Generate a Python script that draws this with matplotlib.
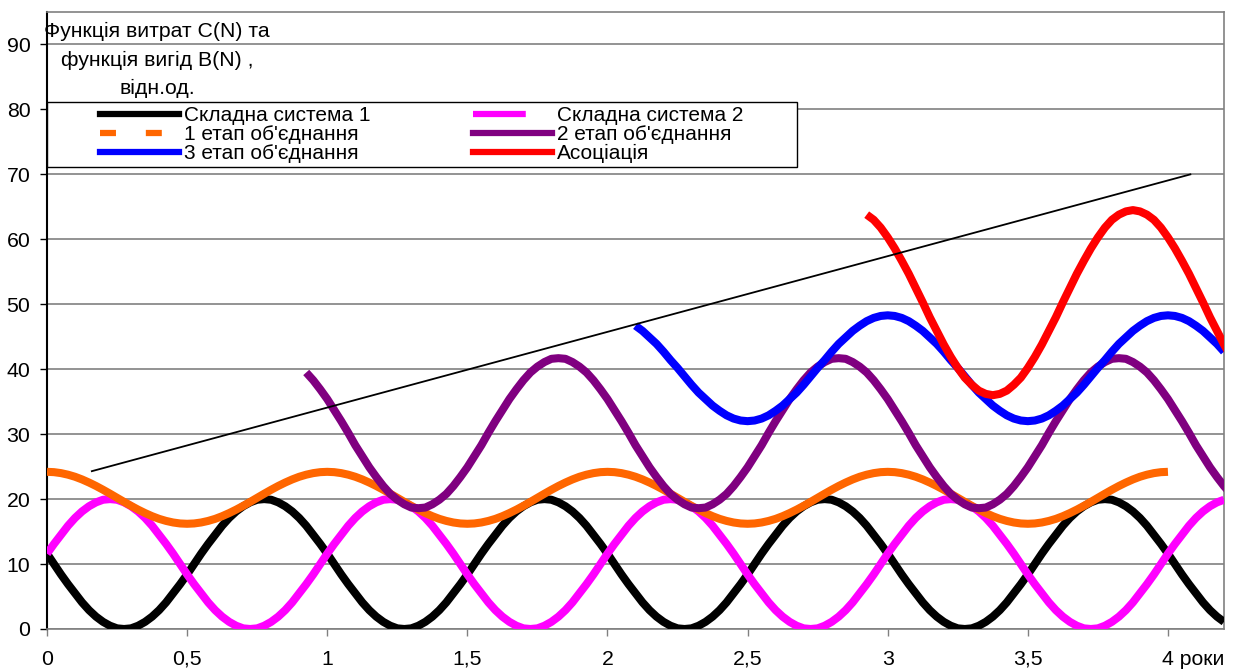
import numpy as np
import matplotlib
matplotlib.use("Agg")
import matplotlib.pyplot as plt
from matplotlib.lines import Line2D
from matplotlib.patches import Rectangle
import matplotlib.transforms as mtransforms

plt.rcParams['font.family'] = ['Liberation Sans', 'DejaVu Sans']
plt.rcParams['lines.scale_dashes'] = False

# ---------------- data ----------------
STEP = 0.025
x_main = np.round(np.arange(0, 169) * STEP, 4)            # 0 .. 4.2
x_orange = np.round(np.arange(0, 161) * STEP, 4)          # 0 .. 4.0
x_purple = np.round(0.925 + np.arange(0, 133) * STEP, 4)  # 0.925 .. 4.225
x_blue = np.round(2.1 + np.arange(0, 85) * STEP, 4)       # 2.1 .. 4.2
x_red = np.round(2.925 + np.arange(0, 53) * STEP, 4)      # 2.925 .. 4.225

system1 = [
    11.6, 10.0, 8.4, 6.9, 5.5, 4.1, 2.9, 1.9, 1.1, 0.5, 0.1, 0.0, 0.1, 0.5, 1.1, 1.9, 2.9, 4.1, 5.5, 6.9,
    8.4, 10.0, 11.6, 13.1, 14.5, 15.9, 17.1, 18.1, 18.9, 19.5, 19.9, 20.0, 19.9, 19.5, 18.9, 18.1, 17.1, 15.9, 14.5, 13.1,
    11.6, 10.0, 8.4, 6.9, 5.5, 4.1, 2.9, 1.9, 1.1, 0.5, 0.1, 0.0, 0.1, 0.5, 1.1, 1.9, 2.9, 4.1, 5.5, 6.9,
    8.4, 10.0, 11.6, 13.1, 14.5, 15.9, 17.1, 18.1, 18.9, 19.5, 19.9, 20.0, 19.9, 19.5, 18.9, 18.1, 17.1, 15.9, 14.5, 13.1,
    11.6, 10.0, 8.4, 6.9, 5.5, 4.1, 2.9, 1.9, 1.1, 0.5, 0.1, 0.0, 0.1, 0.5, 1.1, 1.9, 2.9, 4.1, 5.5, 6.9,
    8.4, 10.0, 11.6, 13.1, 14.5, 15.9, 17.1, 18.1, 18.9, 19.5, 19.9, 20.0, 19.9, 19.5, 18.9, 18.1, 17.1, 15.9, 14.5, 13.1,
    11.6, 10.0, 8.4, 6.9, 5.5, 4.1, 2.9, 1.9, 1.1, 0.5, 0.1, 0.0, 0.1, 0.5, 1.1, 1.9, 2.9, 4.1, 5.5, 6.9,
    8.4, 10.0, 11.6, 13.1, 14.5, 15.9, 17.1, 18.1, 18.9, 19.5, 19.9, 20.0, 19.9, 19.5, 18.9, 18.1, 17.1, 15.9, 14.5, 13.1,
    11.6, 10.0, 8.4, 6.9, 5.5, 4.1, 2.9, 1.9, 1.1]

system2 = [
    11.6, 13.1, 14.5, 15.9, 17.1, 18.1, 18.9, 19.5, 19.9, 20.0, 19.9, 19.5, 18.9, 18.1, 17.1, 15.9, 14.5, 13.1, 11.6, 10.0,
    8.4, 6.9, 5.5, 4.1, 2.9, 1.9, 1.1, 0.5, 0.1, 0.0, 0.1, 0.5, 1.1, 1.9, 2.9, 4.1, 5.5, 6.9, 8.4, 10.0,
    11.6, 13.1, 14.5, 15.9, 17.1, 18.1, 18.9, 19.5, 19.9, 20.0, 19.9, 19.5, 18.9, 18.1, 17.1, 15.9, 14.5, 13.1, 11.6, 10.0,
    8.4, 6.9, 5.5, 4.1, 2.9, 1.9, 1.1, 0.5, 0.1, 0.0, 0.1, 0.5, 1.1, 1.9, 2.9, 4.1, 5.5, 6.9, 8.4, 10.0,
    11.6, 13.1, 14.5, 15.9, 17.1, 18.1, 18.9, 19.5, 19.9, 20.0, 19.9, 19.5, 18.9, 18.1, 17.1, 15.9, 14.5, 13.1, 11.6, 10.0,
    8.4, 6.9, 5.5, 4.1, 2.9, 1.9, 1.1, 0.5, 0.1, 0.0, 0.1, 0.5, 1.1, 1.9, 2.9, 4.1, 5.5, 6.9, 8.4, 10.0,
    11.6, 13.1, 14.5, 15.9, 17.1, 18.1, 18.9, 19.5, 19.9, 20.0, 19.9, 19.5, 18.9, 18.1, 17.1, 15.9, 14.5, 13.1, 11.6, 10.0,
    8.4, 6.9, 5.5, 4.1, 2.9, 1.9, 1.1, 0.5, 0.1, 0.0, 0.1, 0.5, 1.1, 1.9, 2.9, 4.1, 5.5, 6.9, 8.4, 10.0,
    11.6, 13.1, 14.5, 15.9, 17.1, 18.1, 18.9, 19.5, 19.9]

stage1 = [
    24.2, 24.15, 24.0, 23.76, 23.44, 23.03, 22.55, 22.02, 21.44, 20.83, 20.2, 19.57, 18.96, 18.38, 17.85, 17.37, 16.96, 16.64, 16.4, 16.25,
    16.2, 16.25, 16.4, 16.64, 16.96, 17.37, 17.85, 18.38, 18.96, 19.57, 20.2, 20.83, 21.44, 22.02, 22.55, 23.03, 23.44, 23.76, 24.0, 24.15,
    24.2, 24.15, 24.0, 23.76, 23.44, 23.03, 22.55, 22.02, 21.44, 20.83, 20.2, 19.57, 18.96, 18.38, 17.85, 17.37, 16.96, 16.64, 16.4, 16.25,
    16.2, 16.25, 16.4, 16.64, 16.96, 17.37, 17.85, 18.38, 18.96, 19.57, 20.2, 20.83, 21.44, 22.02, 22.55, 23.03, 23.44, 23.76, 24.0, 24.15,
    24.2, 24.15, 24.0, 23.76, 23.44, 23.03, 22.55, 22.02, 21.44, 20.83, 20.2, 19.57, 18.96, 18.38, 17.85, 17.37, 16.96, 16.64, 16.4, 16.25,
    16.2, 16.25, 16.4, 16.64, 16.96, 17.37, 17.85, 18.38, 18.96, 19.57, 20.2, 20.83, 21.44, 22.02, 22.55, 23.03, 23.44, 23.76, 24.0, 24.15,
    24.2, 24.15, 24.0, 23.76, 23.44, 23.03, 22.55, 22.02, 21.44, 20.83, 20.2, 19.57, 18.96, 18.38, 17.85, 17.37, 16.96, 16.64, 16.4, 16.25,
    16.2, 16.25, 16.4, 16.64, 16.96, 17.37, 17.85, 18.38, 18.96, 19.57, 20.2, 20.83, 21.44, 22.02, 22.55, 23.03, 23.44, 23.76, 24.0, 24.15,
    24.2]

stage2 = [
    39.5, 38.3, 36.9, 35.4, 33.7, 32.0, 30.2, 28.3, 26.6, 24.9, 23.4, 22.0, 20.8, 19.9, 19.2, 18.7, 18.6, 18.7, 19.2, 19.9,
    20.8, 22.0, 23.4, 24.9, 26.6, 28.3, 30.2, 32.0, 33.7, 35.4, 36.9, 38.3, 39.5, 40.4, 41.1, 41.6, 41.7, 41.6, 41.1, 40.4,
    39.5, 38.3, 36.9, 35.4, 33.7, 32.0, 30.2, 28.3, 26.6, 24.9, 23.4, 22.0, 20.8, 19.9, 19.2, 18.7, 18.6, 18.7, 19.2, 19.9,
    20.8, 22.0, 23.4, 24.9, 26.6, 28.3, 30.2, 32.0, 33.7, 35.4, 36.9, 38.3, 39.5, 40.4, 41.1, 41.6, 41.7, 41.6, 41.1, 40.4,
    39.5, 38.3, 36.9, 35.4, 33.7, 32.0, 30.2, 28.3, 26.6, 24.9, 23.4, 22.0, 20.8, 19.9, 19.2, 18.7, 18.6, 18.7, 19.2, 19.9,
    20.8, 22.0, 23.4, 24.9, 26.6, 28.3, 30.2, 32.0, 33.7, 35.4, 36.9, 38.3, 39.5, 40.4, 41.1, 41.6, 41.7, 41.6, 41.1, 40.4,
    39.5, 38.3, 36.9, 35.4, 33.7, 32.0, 30.2, 28.3, 26.6, 24.9, 23.4, 22.0, 20.8]

stage3 = [
    46.7, 45.9, 44.9, 43.9, 42.7, 41.4, 40.2, 38.9, 37.6, 36.4, 35.4, 34.4, 33.6, 32.9, 32.4, 32.1, 32.0, 32.1, 32.4, 32.9,
    33.6, 34.4, 35.4, 36.4, 37.6, 38.9, 40.2, 41.4, 42.7, 43.9, 44.9, 45.9, 46.7, 47.4, 47.9, 48.2, 48.3, 48.2, 47.9, 47.4,
    46.7, 45.9, 44.9, 43.9, 42.7, 41.4, 40.2, 38.9, 37.6, 36.4, 35.4, 34.4, 33.6, 32.9, 32.4, 32.1, 32.0, 32.1, 32.4, 32.9,
    33.6, 34.4, 35.4, 36.4, 37.6, 38.9, 40.2, 41.4, 42.7, 43.9, 44.9, 45.9, 46.7, 47.4, 47.9, 48.2, 48.3, 48.2, 47.9, 47.4,
    46.7, 45.9, 44.9, 43.9, 42.7]

association = [
    63.8, 63.0, 61.8, 60.3, 58.6, 56.7, 54.7, 52.5, 50.3, 48.0, 45.9, 43.8, 41.9, 40.2, 38.7, 37.6, 36.7, 36.2, 36.0, 36.2,
    36.7, 37.6, 38.7, 40.2, 41.9, 43.8, 45.9, 48.0, 50.3, 52.5, 54.7, 56.7, 58.6, 60.3, 61.8, 63.0, 63.8, 64.3, 64.5, 64.3,
    63.8, 63.0, 61.8, 60.3, 58.6, 56.7, 54.7, 52.5, 50.3, 48.0, 45.9, 43.8, 41.9]

trend_x = [0.16, 4.08]
trend_y = [24.3, 70.0]

labels = ["Складна система 1", "Складна система 2", "1 етап об'єднання",
          "2 етап об'єднання", "3 етап об'єднання", "Асоціація"]
colors = ["#000000", "#FF00FF", "#FF6600", "#800080", "#0000FF", "#FF0000"]

x_ticks = [0, 0.5, 1, 1.5, 2, 2.5, 3, 3.5, 4]
x_ticklabels = ["0", "0,5", "1", "1,5", "2", "2,5", "3", "3,5", "4 роки"]
y_ticks = [0, 10, 20, 30, 40, 50, 60, 70, 80, 90]
y_title = "Функція витрат C(N) та\nфункція вигід B(N) ,\nвідн.од."

# ---------------- figure ----------------
W, H = 1236, 670
fig = plt.figure(figsize=(W / 100, H / 100), dpi=100)
L, R, T, B = 47, 1224, 12, 629
ax = fig.add_axes([L / W, 1 - B / H, (R - L) / W, (B - T) / H])
ax.set_xlim(0, 4.2)
ax.set_ylim(0, 95)

def axx(px):
    return (px - L) / (R - L)

def axy(py):
    return (B - py) / (B - T)

grey = "#808080"
ax.set_yticks(y_ticks)
ax.set_yticklabels([str(v) for v in y_ticks])
ax.set_xticks(x_ticks)
ax.set_xticklabels(x_ticklabels)
ax.yaxis.grid(True, color=grey, lw=1.2)
ax.set_axisbelow(True)
ax.tick_params(axis='both', labelsize=15.3, length=5, width=1, direction='out')
ax.tick_params(axis='y', pad=7, colors='black')
ax.tick_params(axis='x', pad=10, color=grey, labelcolor='black')
for s in ['top', 'right', 'bottom']:
    ax.spines[s].set_color(grey)
    ax.spines[s].set_linewidth(1.2)
ax.spines['left'].set_color('black')
ax.spines['left'].set_linewidth(1.5)

# shift the "4 роки" label so that the digit sits on the tick
lab = ax.get_xticklabels()[-1]
lab.set_horizontalalignment('left')
lab.set_transform(lab.get_transform() + mtransforms.ScaledTranslation(-6 / 100, 0, fig.dpi_scale_trans))

lw = 5.8
ax.plot(x_main, system1, color=colors[0], lw=lw, solid_capstyle='butt', zorder=3)
ax.plot(x_main, system2, color=colors[1], lw=lw, solid_capstyle='butt', zorder=4)
ax.plot(x_orange, stage1, color=colors[2], lw=lw, solid_capstyle='butt', zorder=5)
ax.plot(x_purple, stage2, color=colors[3], lw=lw, solid_capstyle='butt', zorder=6)
ax.plot(x_blue, stage3, color=colors[4], lw=lw, solid_capstyle='butt', zorder=7)
ax.plot(x_red, association, color=colors[5], lw=lw, solid_capstyle='butt', zorder=8)
ax.plot(trend_x, trend_y, color='black', lw=1.3, zorder=9)

# y-axis title inside plot
ax.text(axx(157), axy(60), y_title, transform=ax.transAxes, ha='center', va='center',
        multialignment='center', fontsize=15.3, linespacing=1.6, zorder=10)

# legend box
ax.add_patch(Rectangle((0, axy(167)), axx(797), axy(102) - axy(167), transform=ax.transAxes,
                       facecolor='white', edgecolor='black', lw=1.0, zorder=11, clip_on=False))

hl = 4.5
handles = [
    Line2D([], [], color=colors[0], lw=hl),
    Line2D([], [], color=colors[2], lw=hl, dashes=(11.5, 21.5)),
    Line2D([], [], color=colors[4], lw=hl),
    Line2D([], [], color=colors[1], lw=hl, dashes=(38, 19)),
    Line2D([], [], color=colors[3], lw=hl),
    Line2D([], [], color=colors[5], lw=hl),
]
leg_labels = [labels[0], labels[2], labels[4], labels[1], labels[3], labels[5]]
leg = ax.legend(handles, leg_labels, ncol=2, loc='upper left',
                bbox_to_anchor=(axx(100), axy(106)), bbox_transform=ax.transAxes,
                frameon=False, fontsize=15, handlelength=3.8, handletextpad=0.25,
                columnspacing=4.9, labelspacing=0.0, borderpad=0, borderaxespad=0)
leg.set_zorder(12)

fig.savefig("out.png", dpi=100)
